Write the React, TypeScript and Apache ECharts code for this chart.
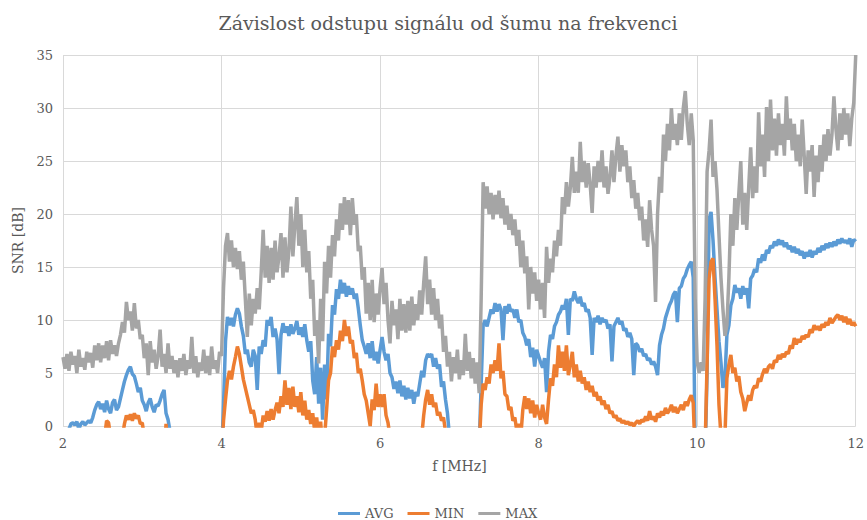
import React, { useEffect, useRef } from "react";
import * as echarts from "echarts";

const TITLE = "Závislost odstupu signálu od šumu na frekvenci";
const X_NAME = "f [MHz]";
const Y_NAME = "SNR [dB]";
const SERIES_NAMES = ["AVG", "MIN", "MAX"];
const COLORS = ["#5b9bd5", "#ed7d31", "#a5a5a5"];

// sampling of the frequency axis (MHz): 2.000 … 12.000 every 0.025 MHz
const FREQ_START = 2;
const FREQ_STEP = 0.025;

// SNR [dB] (values below 0 are clipped by the axis)
const AVG = [
  // 2.000 – 4.000
  -2, -1.5, -0.8, -0.3, 0.2, 0.3, 0.1, 0.4, -0.3, 0.2,
  0.4, 0.1, 0.3, 0.5, 0.3, 0.8, 1.5, 2.0, 2.3, 1.6,
  2.1, 1.3, 2.4, 1.6, 1.2, 2.2, 2.5, 1.5, 1.8, 2.6,
  3.4, 4.2, 4.8, 5.3, 5.6, 4.9, 4.7, 4.0, 3.2, 3.6,
  2.4, 2.0, 1.4, 2.2, 2.6, 1.8, 1.3, 2.0, 1.9, 2.4,
  3.0, 3.4, 1.2, 0.6, -0.5, -2, -4,
  -5, -5, -5, -5, -5, -5, -5, -5, -5, -5, -5, -5, -5, -5, -5, -5, -5, -5, -5, -5, -5, -5, -5,
  -3,
  // 4.025 – 6.000
  2, 8, 10.3, 9.5, 10.2, 9.4, 10.5, 11.1, 10.6, 9.4,
  8.5, 6.8, 7.2, 6, 5.6, 7.2, 6.6, 3.4, 7.5, 6.8,
  8.1, 7.5, 10, 9.5, 10.3, 8.4, 9.2, 8.2, 4.9, 8.6,
  9.7, 8.8, 9.4, 8.5, 9.6, 8.7, 9.2, 9.9, 8.6, 9.3,
  8.4, 9.6, 8.1, 7, 8, 4.3, 3, 6.5, 2.1, 5.5,
  0.6, 5.8, 2.5, 8.7, 7.5, 11.4, 10.5, 12.9, 12, 13.8,
  12.5, 13.5, 12.2, 13.2, 12.4, 13, 12, 12.5, 11.1, 9.5,
  8.1, 7.5, 6.8, 7.8, 6.4, 8, 6.2, 7, 5.9, 7.2,
  // 6.025 – 8.000
  8.4, 7, 6.2, 6.8, 5, 4.6, 3.5, 4.2, 3.1, 4.3,
  2.8, 3.8, 2.5, 3.6, 2.6, 3.4, 2.1, 3.2, 2.8, 4,
  5.2, 4.6, 6.2, 6.8, 6.5, 6.8, 5.6, 6.4, 5.4, 5.8,
  3.7, 4.2, 2.5, 1.2, -1, -3,
  -3, -3, -3, -3, -3, -3, -3, -3, -3, -3, -3, -3, -3,
  -2, 4, 9.5, 10, 9.4, 10.2, 11, 10.6, 11.6, 10.8,
  11.5, 11, 8.1, 11.3, 10.6, 11.5, 10.8, 11, 10.2, 11,
  9.8, 10, 8.8, 8.4, 7.6, 8.2, 6.5, 7.4, 5.6, 7.2,
  6.6,
  // 8.025 – 10.000
  6, 5.5, 6.4, 3.2, 7, 8.6, 8.2, 9.4, 9.8, 10.5,
  10.8, 11.4, 11, 12, 8.6, 12, 11.8, 12.7, 12, 11.6,
  12.2, 11.3, 11.6, 10.8, 11, 10.2, 6.7, 10.2, 9.8, 10.4,
  9.6, 10.2, 9.8, 10, 9.2, 9.6, 6.1, 9.4, 9.8, 10.2,
  9.6, 9.9, 9, 9.2, 8.4, 8.8, 8.2, 4.8, 7.8, 7.6,
  7, 7.3, 6.6, 6.8, 6.2, 6.4, 5.8, 6.1, 5.6, 4.8,
  7.6, 8.6, 9.2, 10.2, 10.8, 11.4, 11.8, 12.4, 12.7, 9.8,
  13, 13.2, 13.9, 14.2, 14.8, 15.2, 15.5, 14, -3, -4,
  // 10.025 – 12.000
  -4, -4, -4, -3, 5, 19.5, 20.2, 17.5, 14, 11,
  8, 6, 3.6, 4.5, 8.6, 9.5, 11.4, 12, 13.3, 12.6,
  13, 12, 13.2, 12.4, 13, 11.1, 13.9, 14.2, 14.8, 14.5,
  15.8, 15.4, 16.2, 15.6, 16.6, 16.3, 17, 16.8, 17.4, 17,
  17.6, 17.1, 17.5, 16.9, 17.3, 16.7, 17, 16.4, 16.9, 16.3,
  16.7, 16.1, 16.5, 15.8, 16.4, 16, 16.6, 15.9, 16.5, 16.2,
  16.8, 16.4, 17, 16.6, 17.2, 16.8, 17.3, 16.9, 17.4, 17,
  17.6, 17.2, 17.7, 17.3, 17.5, 17.2, 17.7, 16.9, 17.6, 17.4,
];

const MIN = [
  // 2.000 – 4.000
  -3, -3, -3, -3, -3, -3, -3, -3, -3, -3, -3, -3, -3, -3, -3, -3, -3, -3, -3, -3, -3,
  -1, 0.5, 0.3, -1, -3, -3, -3, -3, -3, -1, 0.2, 1.0, 0.6, 1.1, 0.5, 1.2, 0.7, 1.0, 0.2, 0.3, -1,
  -3, -3, -3, -3, -3, -3, -3, -3, -3, -3,
  0.2,
  -3, -3, -3, -3, -3, -3, -3, -3, -3, -3, -3, -3, -3, -3, -3, -3, -3, -3, -3, -3, -3, -3, -3, -3, -3, -3, -3, -3,
  // 4.025 – 6.000
  0.5, 2.5, 4.3, 5.2, 4.4, 5.6, 6.5, 7.5, 6.8, 5.6,
  4.4, 3.6, 2.8, 2, 1.2, 1.5, 0.6, -1, 0.3, -0.5,
  1, 0.4, 1.4, 0.5, 1.6, 0.6, 1.5, 2.2, 1.2, 2.8,
  1.8, 4.3, 2, 3.6, 1.6, 3.7, 1.8, 2.8, 1.3, 3.2,
  1, 2.4, 0.6, 1.5, 0.2, 1.2, -0.5, 0.8, -1, 0.4,
  -2, -1, 1.5, 4.3, 5, 7.5, 6.5, 8.1, 7.2, 9,
  8, 10, 8.5, 9.4, 7.8, 8.1, 6.4, 6.9, 5, 5.4,
  4.3, 3, 2.4, 1.2, 0, 2.5, 1.5, 4, 1.8, 3,
  // 6.025 – 8.000
  1.8, 3, 1, 0.3, -1,
  -3, -3, -3, -3, -3, -3, -3, -3, -3, -3, -3, -3, -3, -3, -3,
  -1, 1, 2.5, 3.4, 2, 3, 1.8, 2.2, 1, 1.3, 0.5, 0.8, -0.5, -2,
  -3, -3, -3, -3, -3, -3, -3, -3, -3, -3, -3, -3, -3, -3, -3,
  -2, 2, 4, 3.4, 4.6, 4, 5.8, 5, 6.2, 5.2,
  7.8, 4.5, 5.2, 3, 2.8, 1.5, 1.8, 0.5, 0.8, -0.5,
  0.2, -1, 1.5, 2.8, 1.6, 2.6, 1.2, 2.4, 0.8, 2,
  1.2,
  // 8.025 – 10.000
  0.6, 2, 0.8, 0.2, 2.5, 4.5, 3.8, 5.8, 4.6, 7.6,
  5.5, 7, 5.2, 7.6, 4.8, 5.8, 7, 4.6, 5.8, 4.2,
  5.2, 4, 4.6, 3.4, 4.2, 3.2, 3.8, 2.8, 3.2, 2.4,
  2.8, 2, 2.4, 1.6, 2, 1.2, 1.4, 0.8, 1, 0.5,
  0.7, 0.3, 0.5, 0.2, 0.4, 0.1, 0.3, 0, 0.3, 0.5,
  0.2, 0.6, 0.4, 0.9, 0.5, 1.4, 0.6, 0.9, 0.4, 1.2,
  0.8, 1.4, 1, 1.7, 1.2, 1.5, 2, 1.3, 1.8, 1.2,
  1.6, 2, 1.5, 2.3, 1.9, 2.5, 2.9, 2.2, -3, -3,
  // 10.025 – 12.000
  -3, -3, -3, -2, 6, 13.9, 15.5, 15.8, 12, 7.6,
  2, -1, -2, -1, 4.5, 5.8, 6.7, 5, 5.5, 4.2,
  4.7, 3.2, 2.6, 1.4, 2.2, 2.9, 2.4, 3.4, 3.8, 3.6,
  4.5, 4.2, 4.9, 5.4, 5, 5.6, 5.8, 5.4, 6.2, 6,
  6.7, 6.3, 6.8, 6.5, 7, 6.8, 7.6, 7.3, 8.3, 7.7,
  8.2, 7.9, 8.5, 8.2, 8.6, 8.4, 9.1, 8.8, 9.5, 9.1,
  9.4, 9, 9.6, 9.3, 9.8, 9.5, 10.2, 9.7, 10, 10.3,
  10.5, 10, 10.4, 9.8, 10.3, 9.6, 10.1, 9.5, 9.8, 9.4,
];

const MAX = [
  // 2.000 – 4.000
  6.5, 5.4, 6.8, 5.2, 7.0, 5.8, 6.6, 5.0, 7.2, 5.6,
  6.4, 5.3, 7.0, 6.0, 6.9, 5.5, 7.6, 6.2, 7.8, 6.0,
  7.6, 6.4, 8.0, 6.2, 8.1, 6.8, 7.6, 6.6, 7.8, 8.6,
  9.8, 8.8, 11.7, 10.0, 10.8, 9.0, 11.6, 9.2, 10.0, 8.2,
  8.6, 6.4, 7.8, 4.8, 8.0, 6.0, 7.2, 5.4, 6.6, 9.1,
  5.6, 6.8, 5.0, 7.8, 5.4, 6.6, 5.0, 6.2, 4.6, 6.4,
  5.2, 6.8, 4.8, 6.2, 5.4, 8.4, 5.0, 6.6, 4.6, 6.0,
  5.2, 7.2, 5.0, 6.6, 4.8, 7.5, 5.4, 6.2, 5.0, 7.0,
  6.6,
  // 4.025 – 6.000
  13, 17, 18.2, 15.5, 17.5, 15, 16.8, 14.8, 16.5, 13.8,
  15.5, 12, 8.4, 12.5, 9.5, 12, 10.6, 13, 11, 14.5,
  18.5, 14, 17, 13.5, 16.8, 13.8, 17.5, 14.5, 16, 18.2,
  14, 17.8, 14.5, 16.5, 20.7, 16, 19, 21.6, 17, 20,
  15, 18.5, 14.5, 16.5, 12, 13.8, 8.5, 10, 5.9, 12,
  8, 15.5, 12.5, 17, 14, 18, 16, 19.5, 17.5, 21,
  18.5, 21.6, 19, 21.3, 18, 21.5, 19, 20, 16.5, 17,
  13.8, 15, 10.6, 13.5, 10, 13.8, 9.8, 12.5, 10.5, 13,
  // 6.025 – 8.000
  14.9, 11.5, 13.5, 10, 7.8, 11.8, 9.5, 11, 8.2, 12,
  9, 11.5, 8.8, 11.8, 9, 12.2, 9.5, 11.5, 10, 12.8,
  10.5, 13.5, 16, 11.5, 13.8, 10.5, 13, 10, 12, 9.2,
  10.5, 7, 8.5, 5.6, 7, 4.2, 6.5, 5, 7.2, 4.4,
  6.2, 4.8, 8.7, 5.2, 7, 4.5, 6.4, 4, 6, 3.1,
  12, 23, 20.5, 22.6, 20, 22, 19.5, 21.8, 20, 22.2,
  19.6, 21.5, 19, 20.8, 18.5, 20, 18, 19.5, 17, 18.5,
  15, 17.5, 14.4, 16, 11, 15, 12.5, 14.5, 11.8, 13.8,
  // 8.025 – 10.000
  11, 13.5, 10.2, 16.9, 13.5, 15.8, 14.5, 17.5, 16, 18.5,
  17, 21.6, 20, 23, 20.7, 22.5, 25.4, 22, 24, 22,
  26.8, 23, 25, 22.5, 24.8, 22.8, 20.1, 24.5, 22.5, 25,
  23, 26, 22.5, 24.5, 21.9, 23.5, 26, 23, 25.5, 27.3,
  24, 26.5, 24.5, 26, 23, 24.5, 21.5, 23.2, 20.5, 22,
  19.4, 20.7, 17.5, 19.5, 16.9, 21.3, 18.5, 17, 11.7, 20,
  23.5, 22, 27.5, 25, 28.5, 26, 30, 27, 28.5, 26.5,
  29.5, 27, 30, 31.6, 28.5, 26.5, 29.5, 27, 12, 6,
  // 10.025 – 12.000
  5, 6, 5.2, 12, 24, 26, 28.9, 23.5, 25, 22.3,
  18, 14, 11, 8.5, 9.5, 14, 20, 17, 21.5, 18.5,
  21.9, 25, 19, 22, 18.5, 22.5, 26.3, 21.5, 24.5, 22,
  29.6, 24.5, 27.5, 23.5, 30.1, 25, 30.8, 26, 29, 25.5,
  29.5, 26.5, 28.5, 25.5, 31.1, 27, 29, 26, 28.5, 25,
  27.5, 24.5, 28.9, 25.5, 21.9, 26, 24, 26.5, 21.6, 25.5,
  23, 26.5, 24, 27.5, 25, 28, 25.5, 27.5, 31.1, 28,
  26, 29.5, 27, 30, 27.5, 29.5, 26.4, 29, 30.5, 35,
];

const X_MIN = 2;
const X_MAX = 12;
const X_INTERVAL = 2;
const Y_MIN = 0;
const Y_MAX = 35;
const Y_INTERVAL = 5;

const FONT = "DejaVu Serif";
const TEXT_COLOR = "#595959";

function toPairs(values: number[]): [number, number][] {
  return values.map((v, i) => [+(FREQ_START + i * FREQ_STEP).toFixed(3), v]);
}

export default function App() {
  const ref = useRef<HTMLDivElement>(null);

  useEffect(() => {
    if (!ref.current) return;
    const chart = echarts.init(ref.current, undefined, { renderer: "svg" });
    const seriesData = [AVG, MIN, MAX];
    chart.setOption({
      animation: false,
      backgroundColor: "#ffffff",
      textStyle: { fontFamily: FONT },
      title: {
        text: TITLE,
        left: 443,
        textAlign: "center",
        top: 8,
        textStyle: { fontFamily: FONT, fontSize: 19, fontWeight: "normal", color: TEXT_COLOR },
      },
      grid: { left: 63, right: 7, top: 55, bottom: 94 },
      legend: {
        data: SERIES_NAMES,
        left: 333,
        top: 502,
        icon: "rect",
        itemWidth: 22,
        itemHeight: 3,
        itemGap: 14,
        textStyle: { fontFamily: FONT, fontSize: 13, color: TEXT_COLOR },
      },
      xAxis: {
        type: "value",
        min: X_MIN,
        max: X_MAX,
        interval: X_INTERVAL,
        name: X_NAME,
        nameLocation: "middle",
        nameGap: 33,
        nameTextStyle: { fontFamily: FONT, fontSize: 14, color: TEXT_COLOR },
        axisLine: { show: false },
        axisTick: { show: false },
        axisLabel: { fontFamily: FONT, fontSize: 13, color: TEXT_COLOR, margin: 11 },
        splitLine: { show: true, lineStyle: { color: "#d9d9d9", width: 1 } },
      },
      yAxis: {
        type: "value",
        min: Y_MIN,
        max: Y_MAX,
        interval: Y_INTERVAL,
        name: Y_NAME,
        nameLocation: "middle",
        nameRotate: 90,
        nameGap: 38,
        nameTextStyle: { fontFamily: FONT, fontSize: 14, color: TEXT_COLOR },
        axisLine: { show: false },
        axisTick: { show: false },
        axisLabel: { fontFamily: FONT, fontSize: 13, color: TEXT_COLOR, margin: 10 },
        splitLine: { show: true, lineStyle: { color: "#d9d9d9", width: 1 } },
      },
      series: SERIES_NAMES.map((name, i) => ({
        name,
        type: "line",
        data: toPairs(seriesData[i]),
        showSymbol: false,
        symbol: "none",
        clip: true,
        color: COLORS[i],
        lineStyle: { color: COLORS[i], width: 3.5 },
      })),
    });
    return () => chart.dispose();
  }, []);

  return (
    <div
      ref={ref}
      style={{ position: "absolute", left: 0, top: 0, width: 867, height: 520 }}
    />
  );
}
